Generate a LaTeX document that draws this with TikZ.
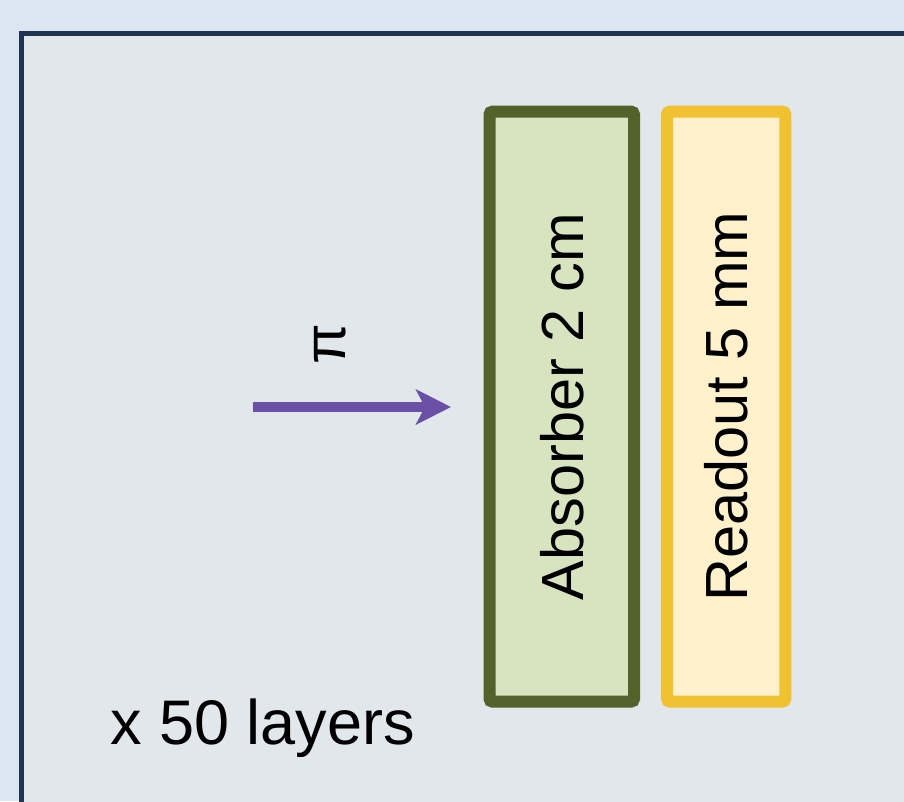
\documentclass[tikz,border=0pt]{standalone}
\usepackage{fontspec}
\setmainfont{Liberation Sans}
\usetikzlibrary{arrows.meta}
\definecolor{pagebg}{HTML}{DBE6F2}
\definecolor{framefill}{HTML}{E2E7EC}
\definecolor{frameline}{HTML}{1E3450}
\definecolor{absfill}{HTML}{D8E4C0}
\definecolor{absline}{HTML}{52622A}
\definecolor{rofill}{HTML}{FFF1CB}
\definecolor{roline}{HTML}{F0C232}
\definecolor{beam}{HTML}{6B50A8}
\tikzset{
  layerbox/.style={rectangle, rotate=90, line width=12pt, rounded corners=3pt,
    minimum width=590pt, inner sep=0pt, font=\fontsize{59.5}{62}\selectfont},
  label/.style={inner sep=0pt, font=\fontsize{59}{62}\selectfont},
}
\begin{document}
\begin{tikzpicture}[x=1pt, y=-1pt]
  \useasboundingbox (0,0) rectangle (904,801);
  \clip (0,0) rectangle (904,801);
  \fill[pagebg] (0,0) rectangle (904,801);
  % enclosing frame, running off the right and bottom edges
  \draw[frameline, fill=framefill, line width=5pt] (21.5,33.5) rectangle (940,840);
  % layers
  \node[layerbox, draw=absline, fill=absfill, minimum height=144.5pt]
    (absorber) at (561.75,406.6) {Absorber 2 cm};
  \node[layerbox, draw=roline, fill=rofill, minimum height=118.3pt]
    (readout) at (726.15,406.6) {Readout 5 mm};
  % incoming pion
  \coordinate (pistart) at (253,407);
  \coordinate (piend) at (451,407);
  \draw[beam, line width=10pt, -{Stealth[length=35pt, width=35pt, inset=9pt]}]
    (pistart) -- (piend);
  \node[label, rotate=90] (pi) at (330,344) {π};
  \node[label, anchor=base west, font=\fontsize{63}{66}\selectfont]
    (layers) at (110,744) {x 50 layers};
\end{tikzpicture}
\end{document}
